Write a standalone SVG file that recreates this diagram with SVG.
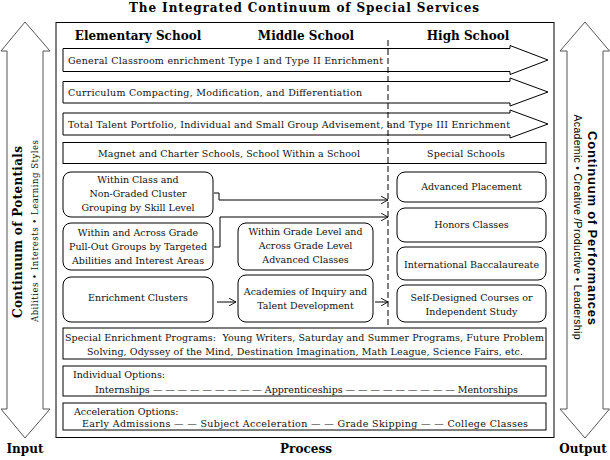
<svg xmlns="http://www.w3.org/2000/svg" width="610" height="460" viewBox="0 0 610 460">
<style>
.t{font-family:"DejaVu Serif","Liberation Serif",serif;font-size:9.5px;fill:#111}
.c{text-anchor:middle}
.h{font-family:"DejaVu Serif","Liberation Serif",serif;font-size:12px;font-weight:bold;fill:#000}
.box{fill:none;stroke:#000;stroke-width:1}
.side{fill:#fff;stroke:#555;stroke-width:1}
.con{fill:none;stroke:#000;stroke-width:1}
</style>
<defs>
<marker id="ah" viewBox="0 0 10 10" refX="9" refY="5" markerWidth="8" markerHeight="8" markerUnits="userSpaceOnUse" orient="auto">
<path d="M0,0 L9,5 L0,10" fill="none" stroke="#000" stroke-width="1.1"/>
</marker>
</defs>
<rect width="610" height="460" fill="#fff"/>
<text class="h c" x="304" y="12" textLength="350">The Integrated Continuum of Special Services</text>

<g id="input-arrow">
<path class="side" d="M7,51 H1 L25,22 L50,51 H43 V409 H50 L25,438 L1,409 H7 Z"/>
<text class="h c" transform="translate(22,232) rotate(-90)" textLength="172">Continuum of Potentials</text>
<text class="t c" style="font-size:8.5px" transform="translate(38,231) rotate(-90)" textLength="182">Abilities • Interests • Learning Styles</text>
</g>
<g id="output-arrow">
<path class="side" d="M567,51 H560 L585,22 L609.5,51 H603 V409 H609.5 L585,438 L560,409 H567 Z"/>
<text class="c" style="font-family:'Liberation Sans',Arial,sans-serif;font-size:13px;font-weight:bold" transform="translate(588,228) rotate(90)" textLength="194">Continuum of Performances</text>
<text class="c" style="font-family:'Liberation Sans',Arial,sans-serif;font-size:10.5px" transform="translate(574,227) rotate(90)" textLength="225">Academic • Creative /Productive • Leadership</text>
</g>

<g id="frame">
<rect class="box" x="56" y="22.5" width="498" height="415"/>
<text class="h c" x="138" y="40">Elementary School</text>
<text class="h c" x="306" y="40">Middle School</text>
<text class="h c" x="468" y="40">High School</text>
</g>

<g id="bar-general">
<path class="box" d="M63,48.5 H510 V45.5 L548,60 L510,74.5 V71.5 H63 Z"/>
<text class="t" x="68" y="63.5" textLength="315">General Classroom enrichment Type I and Type II Enrichment</text>
</g>
<g id="bar-curriculum">
<path class="box" d="M63,81.5 H510 V78 L548,92 L510,106 V103 H63 Z"/>
<text class="t" x="68" y="95.5" textLength="294">Curriculum Compacting, Modification, and Differentiation</text>
</g>
<g id="bar-talent">
<path class="box" d="M63,113 H510 V110 L548,124 L510,138 V135 H63 Z"/>
<text class="t" x="68" y="127.5" textLength="442">Total Talent Portfolio, Individual and Small Group Advisement, and Type III Enrichment</text>
</g>

<g id="magnet">
<rect class="box" x="63" y="142.5" width="483" height="21"/>
<text class="t" x="98" y="156.5" textLength="262">Magnet and Charter Schools, School Within a School</text>
<text class="t" x="427" y="156.5" textLength="78">Special Schools</text>
</g>

<g id="divider">
<line x1="388" y1="40" x2="388" y2="328" stroke="#000" stroke-width="1" stroke-dasharray="6,3"/>
</g>

<g id="within-class">
<rect class="box" x="63" y="172" width="150" height="45" rx="8"/>
<text class="t c" x="138" y="183">Within Class and</text>
<text class="t c" x="138" y="197">Non-Graded Cluster</text>
<text class="t c" x="138" y="211">Grouping by Skill Level</text>
</g>
<g id="pull-out">
<rect class="box" x="63" y="223" width="150" height="47" rx="8"/>
<text class="t c" x="138" y="236">Within and Across Grade</text>
<text class="t c" x="138" y="250">Pull-Out Groups by Targeted</text>
<text class="t c" x="138" y="264">Abilities and Interest Areas</text>
</g>
<g id="enrichment-clusters">
<rect class="box" x="63" y="277" width="150" height="45" rx="8"/>
<text class="t c" x="138" y="301">Enrichment Clusters</text>
</g>
<g id="within-grade">
<rect class="box" x="238" y="223" width="135" height="47" rx="8"/>
<text class="t c" x="305.5" y="235">Within Grade Level and</text>
<text class="t c" x="305.5" y="249">Across Grade Level</text>
<text class="t c" x="305.5" y="263">Advanced Classes</text>
</g>
<g id="academies">
<rect class="box" x="238" y="275" width="135" height="47" rx="8"/>
<text class="t c" x="305.5" y="295">Academies of Inquiry and</text>
<text class="t c" x="305.5" y="309">Talent Development</text>
</g>
<g id="advanced-placement">
<rect class="box" x="397" y="172" width="149" height="30" rx="8"/>
<text class="t c" x="471.5" y="190">Advanced Placement</text>
</g>
<g id="honors">
<rect class="box" x="397" y="208" width="149" height="34" rx="8"/>
<text class="t c" x="471.5" y="228">Honors Classes</text>
</g>
<g id="ib">
<rect class="box" x="397" y="247" width="149" height="33" rx="8"/>
<text class="t c" x="471.5" y="267.5">International Baccalaureate</text>
</g>
<g id="self-designed">
<rect class="box" x="397" y="285" width="149" height="37" rx="8"/>
<text class="t c" x="471.5" y="301">Self-Designed Courses or</text>
<text class="t c" x="471.5" y="315">Independent Study</text>
</g>

<g id="connectors">
<path class="con" d="M214,193 H219 V200 H388" marker-end="url(#ah)"/>
<path class="con" d="M214,247 H220 V217 H388" marker-end="url(#ah)"/>
<path class="con" d="M217,302 H236" marker-end="url(#ah)"/>
<path class="con" d="M375,302 H388" marker-end="url(#ah)"/>
</g>

<g id="special-enrichment">
<rect class="box" x="63" y="328" width="483" height="31" style="fill:#fff"/>
<text class="t" x="65" y="340.5" textLength="479" xml:space="preserve">Special Enrichment Programs:  Young Writers, Saturday and Summer Programs, Future Problem</text>
<text class="t" x="87" y="355" textLength="436">Solving, Odyssey of the Mind, Destination Imagination, Math League, Science Fairs, etc.</text>
</g>
<g id="individual-options">
<rect class="box" x="63" y="366" width="483" height="30"/>
<text class="t" x="73" y="378">Individual Options:</text>
<text class="t" x="95" y="392.5" textLength="423">Internships — — — — — — — — — Apprenticeships — — — — — — — — — Mentorships</text>
</g>
<g id="acceleration-options">
<rect class="box" x="63" y="403" width="483" height="27"/>
<text class="t" x="74" y="415">Acceleration Options:</text>
<text class="t" x="82" y="427" textLength="446">Early Admissions — — Subject Acceleration — — Grade Skipping — — College Classes</text>
</g>

<g id="footer">
<text class="h c" x="25" y="453">Input</text>
<text class="h c" x="306" y="453">Process</text>
<text class="h c" x="583" y="453">Output</text>
</g>
</svg>
